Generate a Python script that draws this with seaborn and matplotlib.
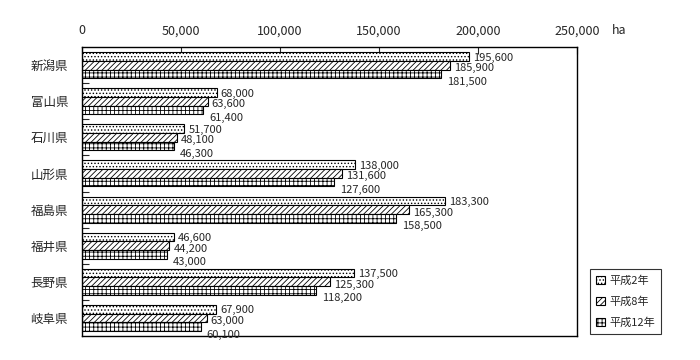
import pandas as pd
import matplotlib
matplotlib.use('Agg')
import matplotlib.pyplot as plt
import seaborn as sns
from matplotlib.ticker import FixedLocator

sns.set_style('white')
plt.rcParams['font.family'] = ['Noto Sans CJK JP', 'DejaVu Sans']
plt.rcParams['hatch.linewidth'] = 0.6

# データ
prefs = ['新潟県', '富山県', '石川県', '山形県', '福島県', '福井県', '長野県', '岐阜県']
years = ['平成2年', '平成8年', '平成12年']
h2 = [195600, 68000, 51700, 138000, 183300, 46600, 137500, 67900]
h8 = [185900, 63600, 48100, 131600, 165300, 44200, 125300, 63000]
h12 = [181500, 61400, 46300, 127600, 158500, 43000, 118200, 60100]

df = pd.DataFrame({'県': prefs * 3,
                   '年': [years[0]] * 8 + [years[1]] * 8 + [years[2]] * 8,
                   '面積': h2 + h8 + h12})

fig = plt.figure(figsize=(7, 3.6), dpi=100)
ax = fig.add_axes([0.117, 0.067, 0.707, 0.802])

sns.barplot(data=df, x='面積', y='県', hue='年', orient='h', ax=ax,
            width=0.72, palette=['white'] * 3, edgecolor='black',
            linewidth=0.8, legend=False)

hatches = ['.....', '//////', '++++']
offsets = [(4, -1), (4, -3), (6, -8)]
for cont, hatch, off in zip(ax.containers, hatches, offsets):
    for bar in cont:
        bar.set_hatch(hatch)
        bar.set_facecolor('white')
        w = bar.get_width()
        y = bar.get_y() + bar.get_height() / 2
        ax.annotate(f'{int(w):,}', (w, y), xytext=off, textcoords='offset pixels',
                    ha='left', va='center', fontsize=8)

ax.set_xlim(0, 250000)
ax.set_ylim(len(prefs) - 0.5, -0.5)
ax.xaxis.tick_top()
ticks = [0, 50000, 100000, 150000, 200000, 250000]
ax.set_xticks(ticks)
ax.set_xticklabels([f'{v:,}' for v in ticks])
ax.tick_params(axis='x', direction='in', length=5, width=0.8, pad=7, labelsize=9, top=True)
ax.tick_params(axis='y', which='major', length=0, pad=10, labelsize=9)
ax.yaxis.set_minor_locator(FixedLocator([i + 0.5 for i in range(len(prefs) - 1)]))
ax.tick_params(axis='y', which='minor', direction='in', length=5, width=0.8, left=True)
ax.set_xlabel('')
ax.set_ylabel('')
for s in ax.spines.values():
    s.set_color('black')
    s.set_linewidth(1.0)
fig.text(0.884, 0.915, 'ha', fontsize=9, ha='center', va='center')

handles = [plt.Rectangle((0, 0), 1, 1, facecolor='white', edgecolor='black',
                         hatch=h, linewidth=0.8) for h in hatches]
leg = fig.legend(handles, years, loc='lower left', bbox_to_anchor=(0.843, 0.072),
                 fontsize=8, frameon=True, fancybox=False, handlelength=0.8,
                 handleheight=0.8, handletextpad=0.4, labelspacing=0.95,
                 borderpad=0.55, borderaxespad=0)
leg.get_frame().set_edgecolor('black')
leg.get_frame().set_linewidth(0.8)

fig.savefig('out.png', dpi=100)
